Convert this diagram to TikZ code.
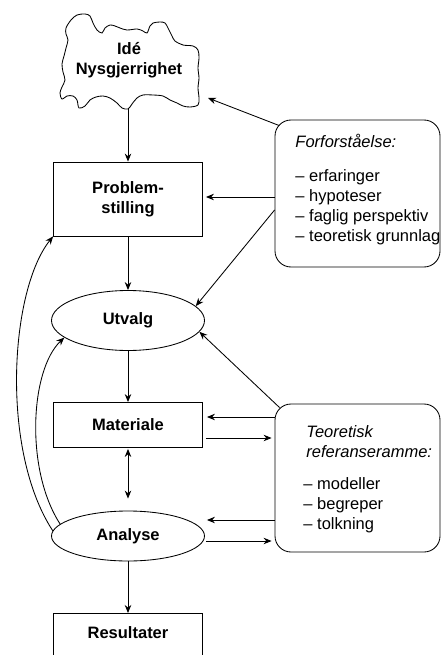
\documentclass[tikz,border=0pt]{standalone}
\usepackage{fontspec}
\setmainfont{Liberation Sans}
\usetikzlibrary{arrows.meta,shapes.geometric,calc}
\begin{document}
\begin{tikzpicture}[x=1pt,y=-1pt,line width=0.85pt,
  arr/.style={-{Stealth[length=8pt,width=6.5pt]}},
  dblarr/.style={{Stealth[length=8pt,width=6.5pt]}-{Stealth[length=8pt,width=6.5pt]}},
  lblfont/.style={font=\fontsize{16.5}{20}\selectfont\bfseries},
  box/.style={draw, rectangle, minimum width=149pt, inner sep=0pt, align=center, lblfont},
  oval/.style={draw, ellipse, minimum width=153pt, inner sep=0pt, lblfont},
  rbox/.style={draw, rounded corners=16pt, minimum width=165pt, minimum height=147pt, inner sep=0pt},
  txt/.style={anchor=base west, inner sep=0pt, font=\fontsize{16.5}{20}\selectfont},
  itxt/.style={anchor=base west, inner sep=0pt, font=\fontsize{16.5}{20}\selectfont\itshape},
]
\useasboundingbox (0,0) rectangle (441,655);
\clip (0,0) rectangle (441,655);

% cloud
\draw plot[smooth cycle, tension=0.55] coordinates {
(66,28) (71,20) (77,15) (85,14) (90,16) (93,23) (97,30) (102,33) (105,28) (110,25)
(115,26) (120,28) (127,30) (137,29) (143,31) (147,33) (150,26) (153,23) (160,22)
(165,23) (168,28) (172,36) (175,41) (183,45) (193,46) (198,50) (199,58) (198,68)
(199,78) (198,88) (199,98) (198,105) (190,107) (183,106) (177,103) (170,100)
(163,96) (153,95) (143,95) (137,98) (132,104) (128,109) (122,108) (117,103)
(110,98) (103,96) (96,97) (90,100) (85,106) (79,108) (77,100) (73,96) (67,96)
(62,99) (60,93) (62,87) (65,80) (63,72) (62,64) (64,56) (66,48) (68,40) (66,34)};
\node[align=center, inner sep=0pt, lblfont] (idea) at (129,60.5) {Idé\\Nysgjerrighet};
\coordinate (cb) at (128,109);
\coordinate (cr) at (208,98);

% main column
\node[box, minimum height=74pt] (pro) at (128,199) {Problem-\\stilling};
\node[oval, minimum height=60pt] (utv) at (128,320.5) {Utvalg};
\node[box, minimum height=45pt] (mat) at (128,425) {Materiale};
\node[oval, minimum height=50pt] (ana) at (128,536) {Analyse};
\node[box, minimum height=45pt, anchor=north, text depth=6pt] (res) at (128,613) {Resultater};

% side boxes
\node[rbox] (forf) at (357.5,193.5) {};
\node[itxt] (f0) at (295,148) {Forforståelse:};
\node[txt] (f1) at (295,181) {– erfaringer};
\node[txt] (f2) at (295,201) {– hypoteser};
\node[txt] (f3) at (295,221) {– faglig perspektiv};
\node[txt] (f4) at (295,241) {– teoretisk grunnlag};

\node[rbox, minimum height=148pt] (teo) at (357.5,478) {};
\node[itxt] (t0) at (306,437) {Teoretisk};
\node[itxt] (t1) at (306,457) {referanseramme:};
\node[txt] (t2) at (303,489) {– modeller};
\node[txt] (t3) at (303,509) {– begreper};
\node[txt] (t4) at (303,529) {– tolkning};

% vertical arrows
\draw[arr] (cb) -- (pro.north);
\draw[arr] (pro.south) -- (utv.north);
\draw[arr] (utv.south) -- (mat.north);
\draw[dblarr, shorten <=1pt, shorten >=12pt] (mat.south) -- (ana.north);
\draw[arr] (ana.south) -- (res.north);

% arrows from Forforstaelse
\coordinate (fa) at ($(forf.north west)+(4.7,6)$);
\draw[arr] (fa) -- (cr);
\coordinate (fb) at ($(forf.west)+(0,3.5)$);
\draw[arr, shorten >=3pt] (fb) -- (fb -| pro.east);
\coordinate (fc) at ($(forf.west)+(0,16.5)$);
\draw[arr] (fc) -- (utv.12);

% arrows with Teoretisk
\coordinate (ta) at ($(teo.north west)+(5,4)$);
\draw[arr] (ta) -- (utv.-9);
\coordinate (tb) at ($(teo.west)+(0,-61)$);
\draw[arr, shorten >=4pt] (tb) -- (tb -| mat.east);
\coordinate (tc) at ($(teo.west)+(0,-40)$);
\draw[arr, shorten <=3pt, shorten >=3pt] (tc -| mat.east) -- (tc);
\coordinate (td) at ($(teo.west)+(0,42)$);
\draw[arr, shorten >=2pt] (td) -- (td -| ana.east);
\coordinate (te) at ($(teo.west)+(0,63)$);
\draw[arr, shorten <=1pt, shorten >=3pt] (te -| ana.east) -- (te);

% left feedback curves
\draw[arr] (ana.176) .. controls (0,450) and (10,290) .. (pro.south west);
\draw[arr] (ana.170) .. controls (25,470) and (30,370) .. (utv.195);
\end{tikzpicture}
\end{document}
